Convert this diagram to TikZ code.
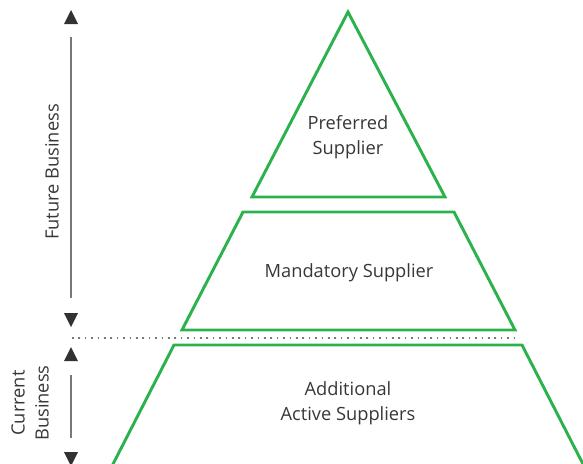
\documentclass[tikz,border=0pt]{standalone}
\usepackage{fontspec}
\setmainfont{Open Sans}
\usepackage{xcolor}
\usetikzlibrary{positioning,calc}

\definecolor{tiergreen}{RGB}{43,178,76}
\definecolor{axisgray}{RGB}{120,120,120}
\definecolor{headgray}{RGB}{50,50,50}
\definecolor{textgray}{RGB}{55,55,55}

\begin{document}
\begin{tikzpicture}[x=0.75pt,y=-0.75pt,
    tier/.style={draw=tiergreen,line width=2.2pt,line join=miter},
    tierlabel/.style={text=textgray,align=center,font=\fontsize{13.7}{19}\selectfont},
    axislabel/.style={text=textgray,align=center,rotate=90,font=\fontsize{13.7}{18}\selectfont},
    axisline/.style={draw=axisgray,line width=1.5pt},
    uphead/.style={fill=headgray},
    divider/.style={draw=axisgray,line width=1.2pt,dash pattern=on 1.2pt off 3.6pt}]
    \useasboundingbox (0,0) rectangle (583,464);
    \clip (0,0) rectangle (583,464);

    % pyramid
    \draw [tier] (348,12) -- (445,197) -- (252,197) -- cycle;
    \draw [tier] (243,212) -- (454,212) -- (515,330) -- (182,330) -- cycle;
    \draw [tier] (174,345) -- (522,345) -- (585,468) -- (111,468) -- cycle;

    \node [tierlabel] (pref) at (348,137) {Preferred\\Supplier};
    \node [tierlabel] (mand) at (349,273) {Mandatory Supplier};
    \node [tierlabel] (addl) at (348,403) {Additional\\Active Suppliers};

    % divider between future and current business
    \coordinate (divl) at (72,338);
    \coordinate (divr) at (517,338);
    \draw [divider] (divl) -- (divr);

    % future business axis
    \coordinate (ftop) at (71,37);
    \coordinate (fbot) at (71,298);
    \draw [axisline] (ftop) -- (fbot);
    \fill [uphead] (71,10) -- (78,24) -- (64,24) -- cycle;
    \fill [uphead] (71,327) -- (78,313) -- (64,313) -- cycle;
    \node [axislabel] (future) at (52,172) {Future Business};

    % current business axis
    \coordinate (ctop) at (71,375);
    \coordinate (cbot) at (71,438);
    \draw [axisline] (ctop) -- (cbot);
    \fill [uphead] (71,347) -- (78,361) -- (64,361) -- cycle;
    \fill [uphead] (71,466) -- (78,452) -- (64,452) -- cycle;
    \node [axislabel] (current) at (30,403) {Current\\Business};
\end{tikzpicture}
\end{document}
